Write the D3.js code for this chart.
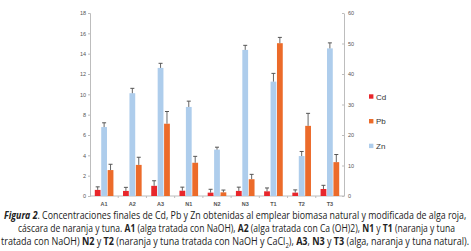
<html>
<head>
  <meta charset="utf-8">
  <script src="https://d3js.org/d3.v7.min.js"></script>
  <style>
    body { margin: 0; background: #fff; }
  </style>
</head>
<body>
<script>
  var width = 471, height = 251;

  var categories = ["A1", "A2", "A3", "N1", "N2", "N3", "T1", "T2", "T3"];
  // Cd on the left axis, Pb and Zn on the right axis
  var cd    = [0.6, 0.5, 1.0, 0.52, 0.33, 0.5, 0.46, 0.33, 0.69];
  var cdErr = [0.3, 0.35, 0.5, 0.35, 0.33, 0.37, 0.33, 0.27, 0.36];
  var zn    = [22.6, 33.7, 42.0, 29.2, 15.2, 47.9, 37.5, 13.1, 48.4];
  var znErr = [1.4, 1.6, 1.5, 1.9, 0.8, 1.5, 2.7, 1.5, 1.8];
  var pb    = [8.5, 10.2, 23.7, 10.9, 1.2, 5.5, 50.1, 23.0, 11.1];
  var pbErr = [1.9, 2.5, 4.0, 2.1, 0.75, 1.6, 1.9, 4.1, 2.5];
  var leftTicks = [0, 2, 4, 6, 8, 10, 12, 14, 16, 18];
  var rightTicks = [0, 10, 20, 30, 40, 50, 60];

  var colors = {Cd: "#e8262b", Pb: "#ec6b2a", Zn: "#aecdec"};

  var svg = d3.select("body").append("svg")
              .attr("width", width).attr("height", height)
              .style("font-family", "Liberation Sans, Arial, sans-serif");

  var x = d3.scaleBand().domain(categories).range([90, 344]);
  var inner = d3.scaleBand().domain(["Cd", "Zn", "Pb"])
                .range([4.8, x.bandwidth() - 4.8]).paddingInner(0.1);
  var yL = d3.scaleLinear().domain([0, 18]).range([196, 13]);
  var yR = d3.scaleLinear().domain([0, 60]).range([196, 13]);

  // axes
  var gl = svg.append("g").attr("transform", "translate(90,0)")
              .call(d3.axisLeft(yL).tickValues(leftTicks).tickSize(2).tickPadding(2));
  var gr = svg.append("g").attr("transform", "translate(344,0)")
              .call(d3.axisRight(yR).tickValues(rightTicks).tickSize(0).tickPadding(4));
  gr.selectAll(".tick").append("line").attr("x1", -2).attr("x2", 0);
  [gl, gr].forEach(function(g) {
    g.select(".domain").attr("stroke", "#bdbdbd");
    g.selectAll(".tick line").attr("stroke", "#bdbdbd");
    g.selectAll(".tick text").attr("fill", "#555").style("font-size", "5.5px");
  });

  var gx = svg.append("g").attr("transform", "translate(0,196)");
  gx.append("line").attr("x1", 90).attr("x2", 344).attr("stroke", "#bdbdbd");
  gx.selectAll(".sep").data(categories.slice(1)).enter().append("line")
    .attr("x1", function(d) { return x(d); }).attr("x2", function(d) { return x(d); })
    .attr("y1", 0).attr("y2", 2).attr("stroke", "#bdbdbd");
  gx.selectAll(".lab").data(categories).enter().append("text")
    .attr("x", function(d) { return x(d) + x.bandwidth() / 2; })
    .attr("y", 9.5).attr("text-anchor", "middle")
    .style("font-size", "5.5px").style("font-weight", "bold").attr("fill", "#555")
    .text(function(d) { return d; });

  // bars
  var series = [
    {key: "Cd", values: cd, err: cdErr, y: yL},
    {key: "Zn", values: zn, err: znErr, y: yR},
    {key: "Pb", values: pb, err: pbErr, y: yR}
  ];
  series.forEach(function(s) {
    var g = svg.append("g");
    categories.forEach(function(c, i) {
      var bx = x(c) + inner(s.key);
      var cx = bx + inner.bandwidth() / 2;
      g.append("rect").attr("x", bx).attr("y", s.y(s.values[i]))
        .attr("width", inner.bandwidth()).attr("height", s.y(0) - s.y(s.values[i]))
        .attr("fill", colors[s.key]);
      var top = s.y(s.values[i] + s.err[i]);
      g.append("line").attr("x1", cx).attr("x2", cx)
        .attr("y1", s.y(s.values[i])).attr("y2", top)
        .attr("stroke", "#666").attr("stroke-width", 1);
      g.append("line").attr("x1", cx - 2).attr("x2", cx + 2)
        .attr("y1", top).attr("y2", top)
        .attr("stroke", "#555").attr("stroke-width", 1);
    });
  });

  // legend
  var legend = ["Cd", "Pb", "Zn"];
  var lg = svg.selectAll(".leg").data(legend).enter().append("g")
              .attr("transform", function(d, i) { return "translate(369," + (96.5 + i * 24.7) + ")"; });
  lg.append("rect").attr("x", 0).attr("y", -2.2).attr("width", 4.4).attr("height", 4.4)
    .attr("fill", function(d) { return colors[d]; });
  lg.append("text").attr("x", 7).attr("y", 3).style("font-size", "8px").attr("fill", "#333")
    .text(function(d) { return d; });

  // caption: natural layout, then squeezed horizontally to the reference width
  var cap = svg.append("g").style("font-family", "Open Sans, sans-serif")
               .style("font-size", "10.5px").attr("fill", "#222");
  function line(yy, x0, x1, parts) {
    var g = cap.append("g");
    var t = g.append("text").attr("x", 0).attr("y", 0);
    parts.forEach(function(p) {
      var ts = t.append("tspan").text(p[0]);
      if (p[1] === "b") ts.style("font-weight", "bold");
      if (p[1] === "bi") ts.style("font-weight", "bold").style("font-style", "italic");
      if (p[1] === "sub") ts.attr("dy", 2.5).style("font-size", "7px");
      if (p[1] === "unsub") ts.attr("dy", -2.5);
    });
    var w = t.node().getComputedTextLength();
    g.attr("transform", "translate(" + x0 + "," + yy + ") scale(" + ((x1 - x0) / w) + ",1)");
  }
  line(219, 4, 467, [["Figura 2", "bi"], [". Concentraciones finales de Cd, Pb y Zn obtenidas al emplear biomasa natural y modificada de alga roja,"]]);
  line(232, 18, 455, [["cáscara de naranja y tuna. "], ["A1", "b"], [" (alga tratada con NaOH), "], ["A2", "b"],
                      [" (alga tratada con Ca (OH)2), "], ["N1", "b"], [" y "], ["T1", "b"], [" (naranja y tuna"]]);
  line(245, 1, 470, [["tratada con NaOH) "], ["N2", "b"], [" y "], ["T2", "b"], [" (naranja y tuna tratada con NaOH y CaCl"],
                     ["2", "sub"], ["), ", "unsub"], ["A3", "b"], [", "], ["N3", "b"], [" y "], ["T3", "b"], [" (alga, naranja y tuna natural)."]]);
</script>
</body>
</html>
